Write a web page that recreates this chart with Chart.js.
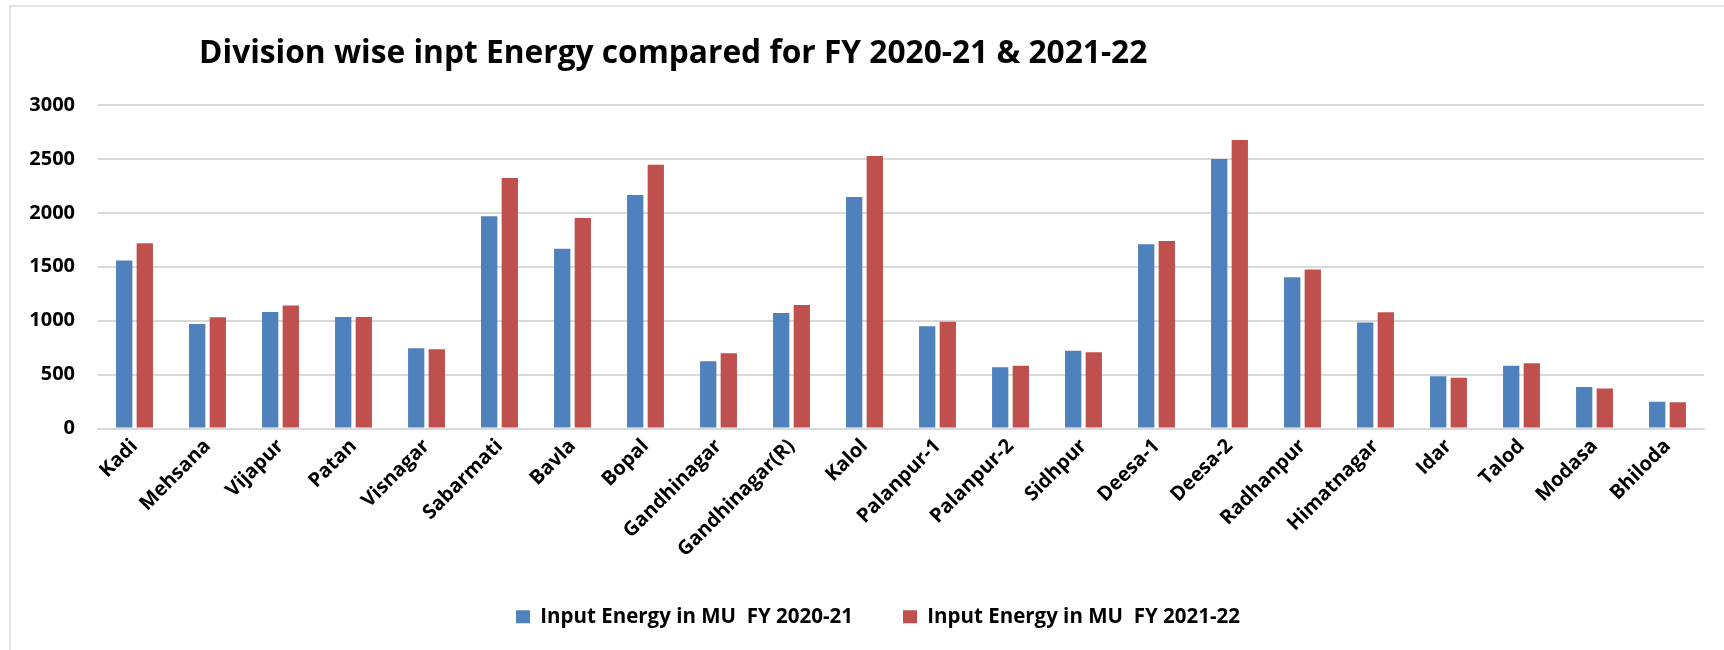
<!DOCTYPE html>
<html>
<head>
<meta charset="utf-8">
<script src="https://cdn.jsdelivr.net/npm/chart.js@4.4.1/dist/chart.umd.min.js"></script>
<style>
  html, body { margin: 0; padding: 0; background: #ffffff; }
  #wrap { position: relative; width: 1724px; height: 650px; }
</style>
</head>
<body>
<div id="wrap"><canvas id="c" width="1724" height="650"></canvas></div>
<script>
const chartTitle = "Division wise inpt Energy compared for FY 2020-21 & 2021-22";
const categories = ["Kadi", "Mehsana", "Vijapur", "Patan", "Visnagar", "Sabarmati", "Bavla", "Bopal",
  "Gandhinagar", "Gandhinagar(R)", "Kalol", "Palanpur-1", "Palanpur-2", "Sidhpur", "Deesa-1", "Deesa-2",
  "Radhanpur", "Himatnagar", "Idar", "Talod", "Modasa", "Bhiloda"];
const seriesNames = ["Input Energy in MU  FY 2020-21", "Input Energy in MU  FY 2021-22"];
const fy2021 = [1557, 970, 1081, 1035, 745, 1968, 1668, 2166, 624, 1072, 2147, 949, 568, 720, 1708, 2499, 1403, 982, 485, 581, 386, 247];
const fy2122 = [1718, 1032, 1140, 1035, 735, 2323, 1953, 2447, 698, 1146, 2527, 989, 581, 708, 1739, 2676, 1474, 1078, 470, 606, 371, 244];
const yTicks = [0, 500, 1000, 1500, 2000, 2500, 3000];

const FONT = "'Open Sans', Lato, sans-serif";

const framePlugin = {
  id: 'frame',
  afterLayout(chart) {
    if (chart.legend) { chart.legend.left += 26; chart.legend.right += 26; }
    // let the long rotated category labels run below the axis box (no clipping)
    if (chart.scales.x) { chart.scales.x.bottom += 45; }
  },
  beforeDraw(chart) {
    const ctx = chart.ctx;
    ctx.save();
    ctx.fillStyle = '#ffffff';
    ctx.fillRect(0, 0, chart.width, chart.height);
    ctx.strokeStyle = '#d9d9d9';
    ctx.lineWidth = 1.5;
    ctx.strokeRect(10, 6, chart.width + 10, chart.height + 10);
    ctx.restore();
  },
  afterDraw(chart) {
    const ctx = chart.ctx;
    ctx.save();
    ctx.font = "bold 31.7px " + FONT;
    ctx.fillStyle = '#000000';
    ctx.textAlign = 'left';
    ctx.textBaseline = 'alphabetic';
    ctx.fillText(chartTitle, 199, 63);
    ctx.restore();
  }
};

new Chart(document.getElementById('c'), {
  type: 'bar',
  data: {
    labels: categories,
    datasets: [
      { label: seriesNames[0], data: fy2021, backgroundColor: '#4F81BD', borderWidth: 0,
        categoryPercentage: 0.5644, barPercentage: 0.791 },
      { label: seriesNames[1], data: fy2122, backgroundColor: '#C0504D', borderWidth: 0,
        categoryPercentage: 0.5644, barPercentage: 0.791 }
    ]
  },
  options: {
    responsive: false,
    animation: false,
    devicePixelRatio: 1,
    layout: { padding: { left: 0, right: 20, top: 105, bottom: 13 } },
    plugins: {
      title: { display: false },
      tooltip: { enabled: false },
      legend: {
        position: 'bottom',
        align: 'center',
        labels: {
          boxWidth: 14,
          boxHeight: 13,
          padding: 50,
          color: '#000000',
          font: { family: FONT, size: 20.5, weight: 'bold' }
        }
      }
    },
    scales: {
      x: {
        grid: { display: false, drawTicks: false },
        border: { display: true, color: '#d9d9d9', width: 2 },
        ticks: {
          color: '#000000',
          font: { family: FONT, size: 20, weight: 'bold' },
          maxRotation: 45,
          minRotation: 45,
          padding: 6,
          autoSkip: false
        },
        afterFit(scale) { scale.height = 128; }
      },
      y: {
        min: 0,
        max: 3000,
        afterBuildTicks(scale) { scale.ticks = yTicks.map(v => ({ value: v })); },
        grid: { color: '#d9d9d9', lineWidth: 2, drawTicks: false },
        border: { display: false },
        ticks: {
          color: '#000000',
          font: { family: FONT, size: 20, weight: 'bold' },
          padding: 23,
          callback: (v) => String(v)
        },
        afterFit(scale) { scale.width = 98; }
      }
    }
  },
  plugins: [framePlugin]
});
</script>
</body>
</html>
